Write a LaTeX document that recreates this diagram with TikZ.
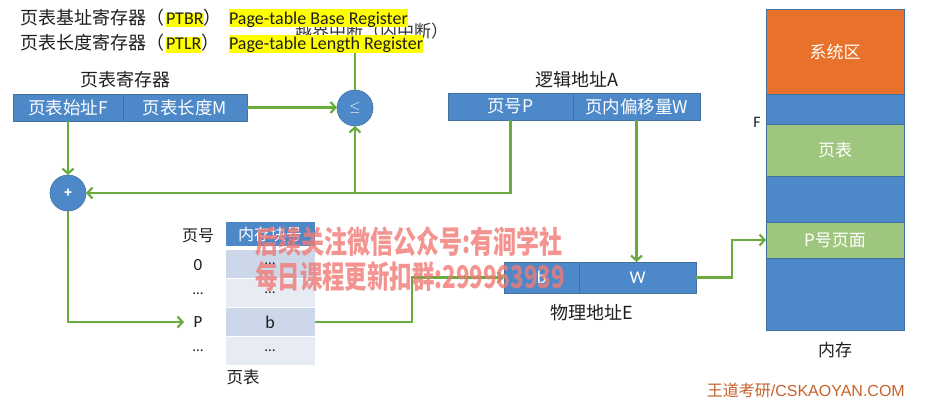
\documentclass[tikz,border=0pt]{standalone}
\usepackage{fontspec}
\usepackage{graphicx}
\setmainfont{Noto Sans CJK SC}
\newfontfamily\lat{Carlito}
\newfontfamily\arial{Liberation Sans}
\usetikzlibrary{arrows.meta}
\definecolor{blu}{HTML}{4D89C9}
\definecolor{bluedge}{HTML}{41719C}
\definecolor{org}{HTML}{E8712B}
\definecolor{grn}{HTML}{9FC67F}
\definecolor{arr}{HTML}{6AAB3D}
\definecolor{rowA}{HTML}{CCD8EA}
\definecolor{rowB}{HTML}{E6EBF4}
\definecolor{wm}{HTML}{F07A76}
\definecolor{brand}{HTML}{C5622A}
\definecolor{txt}{HTML}{1E1E1E}
\definecolor{hl}{HTML}{FFFF00}
\begin{document}
\begin{tikzpicture}[x=1pt,y=-1pt,
  lbl/.style={inner sep=0, outer sep=0, text=txt, font=\fontsize{18}{20}\selectfont},
  hlbox/.style={inner xsep=0, inner ysep=0, outer sep=0, fill=hl, text=txt, font=\lat\fontsize{18}{20}\selectfont},
  cell/.style={draw=bluedge, line width=0.6pt, fill=blu, text=white, inner sep=0, outer sep=0, anchor=north west, font=\fontsize{17.5}{18}\selectfont},
  memcell/.style={draw=bluedge, line width=0.6pt, inner sep=0, outer sep=0, anchor=north west, minimum width=138pt, text=white, font=\fontsize{17}{18}\selectfont},
  circ/.style={circle, fill=blu, draw=bluedge, line width=0.6pt, minimum size=36pt, inner sep=0, outer sep=0, text=white},
  tcell/.style={draw=white, line width=1pt, inner sep=0, outer sep=0, anchor=north west, minimum width=90pt, text=txt, font=\fontsize{15}{17}\selectfont},
  arrowst/.style={draw=arr, line width=2.2pt, -{Straight Barb[length=5pt,width=11pt]}},
  plainst/.style={draw=arr, line width=2.2pt},
  wmark/.style={inner sep=0, text=wm, text opacity=0.8, font=\bfseries\fontsize{25}{28}\selectfont}
]
\useasboundingbox (0,0) rectangle (945,405);
\fill[white] (0,0) rectangle (945,405);

% hidden text behind the highlight boxes
\node[lbl, anchor=base west, text=black!80, font=\fontsize{17}{20}\selectfont] (oob) at (295,37.5) {越界中断（内中断）};

% ---- vertical line from <= upward (under highlight box)
\node[circ] (le) at (355,108) {\fontsize{14}{14}\selectfont$\le$};
\coordinate (bound) at (355,45);
\draw[plainst] (le.north) -- (bound);

% ---- header lines
\node[lbl, anchor=base west] (t1a) at (20,24) {页表基址寄存器（};
\node[hlbox, anchor=base west, text height=11pt, text depth=3pt] (t1b) at (166,24) {PTBR};
\node[lbl, anchor=base west] (t1c) at (t1b.base east) {）};
\node[hlbox, anchor=base west, text height=15pt, text depth=3pt] (t1d) at (229,24) {Page-table Base Register};

\node[lbl, anchor=base west] (t2a) at (20,49.5) {页表长度寄存器（};
\node[hlbox, anchor=base west, text height=12.5pt, text depth=3.5pt] (t2b) at (166,49.5) {PTLR};
\node[lbl, anchor=base west] (t2c) at (t2b.base east) {）};
\node[hlbox, anchor=base west, text height=15pt, text depth=3.5pt] (t2d) at (229,49.5) {Page-table Length Register};

% ---- page table register
\node[lbl] (regl) at (125,80) {页表寄存器};
\node[cell, minimum width=110pt, minimum height=27pt] (f) at (13,94) {页表始址F};
\node[cell, minimum width=124pt, minimum height=27pt] (m) at (123,94) {页表长度M};

% ---- logical address
\node[lbl] (lal) at (577,80) {逻辑地址A};
\node[cell, minimum width=125pt, minimum height=27pt] (pn) at (448,93) {页号P};
\node[cell, minimum width=127pt, minimum height=27pt] (pw) at (573,93) {页内偏移量W};

% ---- adder
\node[circ] (plus) at (68,193) {\fontsize{13}{13}\selectfont\textbf{+}};
\coordinate (jn) at (355,193);

% ---- page table
\node[lbl, font=\fontsize{16}{18}\selectfont] (ph) at (198,236) {页号};
\node[lbl, font=\lat\fontsize{17}{18}\selectfont] (p0) at (198,265) {0};
\node[lbl, font=\lat\fontsize{15}{18}\selectfont] (p1) at (198,294) {…};
\node[lbl, font=\lat\fontsize{17}{18}\selectfont] (lblP) at (198,322) {P};
\node[lbl, font=\lat\fontsize{15}{18}\selectfont] (p3) at (198,351) {…};

\node[tcell, fill=blu, text=white, minimum height=25pt, font=\fontsize{16}{17}\selectfont] (hdr) at (225,221.5) {内存块号};
\node[tcell, fill=rowA, minimum height=29pt] (r0) at (225,249.5) {\lat …};
\node[tcell, fill=rowB, minimum height=29pt] (r1) at (225,278.5) {\lat …};
\node[tcell, fill=rowA, minimum height=29pt, font=\lat\fontsize{18}{18}\selectfont] (rP) at (225,307.5) {b};
\node[tcell, fill=rowB, minimum height=29pt] (r3) at (225,336.5) {\lat …};
\node[lbl, font=\fontsize{16.5}{18}\selectfont] (ptl) at (243,377) {页表};

% ---- physical address
\node[cell, minimum width=75pt, minimum height=31pt, font=\lat\fontsize{18}{18}\selectfont] (pb) at (504,262) {b};
\node[cell, minimum width=117pt, minimum height=31pt, font=\lat\fontsize{18}{18}\selectfont] (bw) at (579,262) {W};
\node[lbl] (pal) at (592,313) {物理地址E};

% ---- memory
\node[memcell, fill=org, minimum height=85pt] (sys) at (766,9) {系统区};
\node[memcell, fill=blu, minimum height=30pt] (mb1) at (766,94) {};
\node[memcell, fill=grn, minimum height=52pt] (mpt) at (766,124) {页表};
\node[memcell, fill=blu, minimum height=46pt] (mb2) at (766,176) {};
\node[memcell, fill=grn, minimum height=36pt] (pg) at (766,222) {P号页面};
\node[memcell, fill=blu, minimum height=72pt] (mb3) at (766,258) {};
\node[lbl, font=\lat\fontsize{16}{18}\selectfont] (fl) at (757,122) {F};
\node[lbl, font=\fontsize{17}{18}\selectfont] (mem) at (835,350) {内存};

\node[inner sep=0, anchor=east, text=brand, font=\arial\fontsize{16}{18}\selectfont] (brandt) at (905,390) {{\rmfamily 王道考研}/CSKAOYAN.COM};

% ---- connectors
\draw[arrowst] (m.east) -- (m.east -| le.west);
\draw[arrowst] (f.south) -- (plus.north);
\draw[arrowst] (pn.south) |- (plus.east);
\draw[arrowst] (jn) -- (le.south);
\coordinate (pArr) at (184,322);
\draw[arrowst] (plus.south) |- (pArr);
\coordinate (bx) at (412,277.5);
\draw[arrowst] (rP.east) -| (bx) -- (pb.west);
\draw[arrowst] (pw.south) -- (pw.south |- bw.north);
\coordinate (wx) at (732,240);
\draw[arrowst] (bw.east) -| (wx) -- (pg.west);

% ---- watermark
\node[wmark, anchor=west] (wm1) at (255,242) {\resizebox*{307pt}{30pt}{后续关注微信公众号:有涧学社}};
\node[wmark, anchor=west] (wm2) at (255,277) {\resizebox*{310pt}{30pt}{每日课程更新扣群:299963939}};
\end{tikzpicture}
\end{document}
